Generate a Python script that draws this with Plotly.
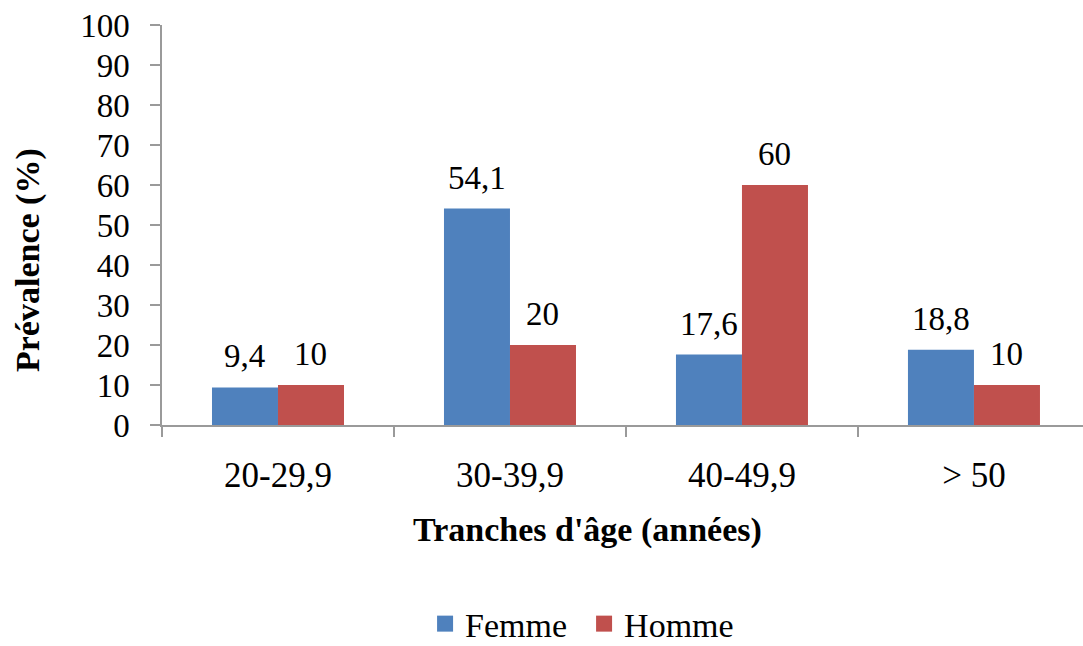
import plotly.graph_objects as go

# Prévalence par tranche d'âge et par sexe
categories = ["20-29,9", "30-39,9", "40-49,9", "> 50"]
femme = [9.4, 54.1, 17.6, 18.8]
homme = [10, 20, 60, 10]
y_ticks = [0, 10, 20, 30, 40, 50, 60, 70, 80, 90, 100]

BLUE = "#4F81BD"
RED = "#C0504D"
AXIS = "#9A9A9A"
FONT = "Liberation Serif"

W, H = 1083, 646
M_L, M_R, M_T, M_B = 162, 0, 25, 221
BARGAP = 0.431
# the last category runs slightly past the right edge of the chart
X_RANGE = [-0.5, 3.47]


def fr(v):
    """Format a value with a French decimal comma."""
    return f"{v:g}".replace(".", ",")


series = [("Femme", femme, BLUE), ("Homme", homme, RED)]

fig = go.Figure()
for name, vals, color in series:
    fig.add_trace(go.Bar(
        name=name,
        x=categories,
        y=vals,
        marker=dict(color=color, line=dict(width=0)),
        showlegend=False,
    ))
    # legend entry with a larger square swatch
    fig.add_trace(go.Scatter(
        name=name,
        x=[None], y=[None],
        mode="markers",
        marker=dict(symbol="square", size=16, color=color),
        showlegend=True,
    ))

# value labels above each bar, shifted to the centre of its bar in the group
plot_w = W - M_L - M_R
px_per_cat = plot_w / (X_RANGE[1] - X_RANGE[0])
bar_w = px_per_cat * (1 - BARGAP) / len(series)
for k, (name, vals, color) in enumerate(series):
    shift = (k - (len(series) - 1) / 2) * bar_w
    for cat, v in zip(categories, vals):
        fig.add_annotation(
            x=cat, y=v, xref="x", yref="y",
            text=fr(v), showarrow=False,
            xanchor="center", yanchor="bottom",
            xshift=shift, yshift=11,
            font=dict(family=FONT, size=33, color="black"),
        )

# axis titles
fig.add_annotation(
    x=-0.1455, y=0.4125, xref="paper", yref="paper",
    text="<b>Prévalence (%)</b>", textangle=-90, showarrow=False,
    xanchor="center", yanchor="middle",
    font=dict(family=FONT, size=34, color="black"),
)
fig.add_annotation(
    x=0.4615, y=-0.2625, xref="paper", yref="paper",
    text="<b>Tranches d'âge (années)</b>", showarrow=False,
    xanchor="center", yanchor="middle",
    font=dict(family=FONT, size=34, color="black"),
)

fig.update_layout(
    width=W,
    height=H,
    margin=dict(l=M_L, r=M_R, t=M_T, b=M_B, autoexpand=False),
    paper_bgcolor="white",
    plot_bgcolor="white",
    barmode="group",
    bargap=BARGAP,
    bargroupgap=0,
    font=dict(family=FONT, size=33, color="black"),
    showlegend=True,
    legend=dict(
        orientation="h",
        xref="container", yref="container",
        x=0.3925, xanchor="left",
        y=0.034, yanchor="middle",
        font=dict(family=FONT, size=34, color="black"),
        entrywidth=114,
        bgcolor="rgba(0,0,0,0)",
    ),
)

fig.update_xaxes(
    type="category",
    range=X_RANGE,
    showline=True, linecolor=AXIS, linewidth=1.5,
    ticks="outside", tickson="boundaries", ticklen=10, tickcolor=AXIS, tickwidth=1.5,
    tickfont=dict(family=FONT, size=35, color="black"),
    ticklabelstandoff=18,
    showgrid=False, zeroline=False,
)
fig.update_yaxes(
    range=[0, 100],
    tickvals=y_ticks,
    showline=True, linecolor=AXIS, linewidth=1.5,
    ticks="outside", ticklen=10, tickcolor=AXIS, tickwidth=1.5,
    tickfont=dict(family=FONT, size=33, color="black"),
    ticklabelstandoff=14,
    showgrid=False, zeroline=False,
)

fig.write_html("out.html")
